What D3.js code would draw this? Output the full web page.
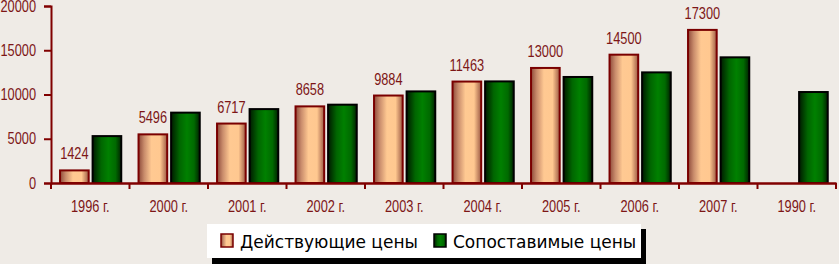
<!DOCTYPE html>
<html>
<head>
<meta charset="utf-8">
<script src="https://cdn.jsdelivr.net/npm/d3@7"></script>
<style>
  html, body { margin: 0; padding: 0; background: #efebe6; }
  svg { display: block; }
</style>
</head>
<body>
<div id="chart"></div>
<script>
const categories = ['1996 г.', '2000 г.', '2001 г.', '2002 г.', '2003 г.', '2004 г.', '2005 г.', '2006 г.', '2007 г.', '1990 г.'];
const seriesNames = ['Действующие цены', 'Сопоставимые цены'];
const currentPrices = [1424, 5496, 6717, 8658, 9884, 11463, 13000, 14500, 17300, null];
const comparablePrices = [5300, 7950, 8350, 8850, 10350, 11480, 11980, 12500, 14200, 10280];
const yTicks = [0, 5000, 10000, 15000, 20000];

const width = 839, height = 264;
const axisColor = '#800000';
const textColor = '#7d1616';
const narrowFont = '"Liberation Sans", Arial, sans-serif';
const squeeze = 0.8; // horizontal squeeze to imitate a narrow face

const svg = d3.select('#chart')
    .append('svg')
    .attr('width', width)
    .attr('height', height);

// Gradients for the bars
const defs = svg.append('defs');
function addGradient(id, stops) {
    const g = defs.append('linearGradient').attr('id', id)
        .attr('x1', '0%').attr('x2', '100%').attr('y1', '0%').attr('y2', '0%');
    stops.forEach(([o, c]) => g.append('stop').attr('offset', o).attr('stop-color', c));
}
addGradient('beige', [['0%', '#8e4a3a'], ['20%', '#c98c6c'], ['45%', '#ffc992'], ['75%', '#ffc890'], ['100%', '#9c5a44']]);
addGradient('green', [['0%', '#001a00'], ['30%', '#006600'], ['55%', '#008000'], ['80%', '#006a00'], ['100%', '#002200']]);

// narrow text helper
function narrowText(sel, x, y, anchor, str) {
    return sel.append('text')
        .attr('transform', `translate(${x},${y}) scale(${squeeze},1)`)
        .attr('text-anchor', anchor)
        .attr('font-family', narrowFont)
        .attr('font-size', 16)
        .attr('fill', textColor)
        .text(str);
}

const x0 = d3.scaleBand()
    .domain(categories)
    .range([51, 836]);

const x1 = d3.scaleBand()
    .domain(seriesNames)
    .range([x0.bandwidth() * 0.115, x0.bandwidth() * 0.895])
    .paddingInner(0.12);

const y = d3.scaleLinear()
    .domain([0, 20000])
    .range([183, 6]);

// Bars
const groups = svg.selectAll('.cat')
    .data(categories)
    .enter()
    .append('g')
    .attr('transform', d => `translate(${x0(d)},0)`);

groups.each(function(cat, i) {
    const g = d3.select(this);
    const vals = [
        { s: seriesNames[0], v: currentPrices[i], fill: 'url(#beige)', stroke: '#7a0000' },
        { s: seriesNames[1], v: comparablePrices[i], fill: 'url(#green)', stroke: '#000' }
    ].filter(d => d.v != null);

    g.selectAll('rect')
        .data(vals)
        .enter()
        .append('rect')
        .attr('x', d => x1(d.s))
        .attr('width', x1.bandwidth())
        .attr('y', d => y(d.v))
        .attr('height', d => y(0) - y(d.v))
        .attr('fill', d => d.fill)
        .attr('stroke', d => d.stroke)
        .attr('stroke-width', 2);

    if (currentPrices[i] != null) {
        narrowText(g, x1(seriesNames[0]) + x1.bandwidth() / 2, y(currentPrices[i]) - 11, 'middle', currentPrices[i]);
    }
});

// Y axis
const yAxis = svg.append('g')
    .attr('transform', 'translate(51,0)')
    .call(d3.axisLeft(y).tickValues(yTicks).tickSize(7).tickPadding(7).tickFormat(d3.format('d')));
yAxis.select('.domain').attr('stroke', axisColor).attr('stroke-width', 2);
yAxis.selectAll('.tick line').attr('stroke', axisColor).attr('stroke-width', 2);
yAxis.selectAll('text')
    .attr('x', -15 / squeeze)
    .attr('transform', `scale(${squeeze},1)`)
    .attr('fill', textColor)
    .attr('font-family', narrowFont)
    .attr('font-size', 16);

// X axis: labels centred, ticks at category edges
const xAxis = svg.append('g')
    .attr('transform', `translate(0,${y(0)})`)
    .call(d3.axisBottom(x0).tickSize(0).tickPadding(18));
xAxis.select('.domain').attr('stroke', axisColor).attr('stroke-width', 2.5);
xAxis.selectAll('text')
    .attr('transform', `scale(${squeeze},1)`)
    .attr('fill', textColor)
    .attr('font-family', narrowFont)
    .attr('font-size', 16);

const edges = categories.map(c => x0(c)).concat([x0.range()[1]]);
svg.append('g')
    .selectAll('line')
    .data(edges)
    .enter()
    .append('line')
    .attr('x1', d => d).attr('x2', d => d)
    .attr('y1', y(0)).attr('y2', y(0) + 6)
    .attr('stroke', axisColor)
    .attr('stroke-width', 2);

// Legend
const legend = svg.append('g').attr('transform', 'translate(207,224)');
legend.append('rect')
    .attr('x', 5).attr('y', 5)
    .attr('width', 434).attr('height', 35)
    .attr('fill', '#000');
legend.append('rect')
    .attr('width', 434).attr('height', 34)
    .attr('fill', '#fff');

const legendItems = [
    { name: seriesNames[0], fill: 'url(#beige)', stroke: '#7a0000', x: 14 },
    { name: seriesNames[1], fill: 'url(#green)', stroke: '#000', x: 227 }
];
legendItems.forEach(d => {
    legend.append('rect')
        .attr('x', d.x).attr('y', 10)
        .attr('width', 12).attr('height', 13)
        .attr('fill', d.fill)
        .attr('stroke', d.stroke)
        .attr('stroke-width', 1.5);
    legend.append('text')
        .attr('x', d.x + 19)
        .attr('y', 24)
        .attr('font-family', '"DejaVu Sans", sans-serif')
        .attr('font-size', 17)
        .attr('fill', '#000')
        .text(d.name);
});
</script>
</body>
</html>
